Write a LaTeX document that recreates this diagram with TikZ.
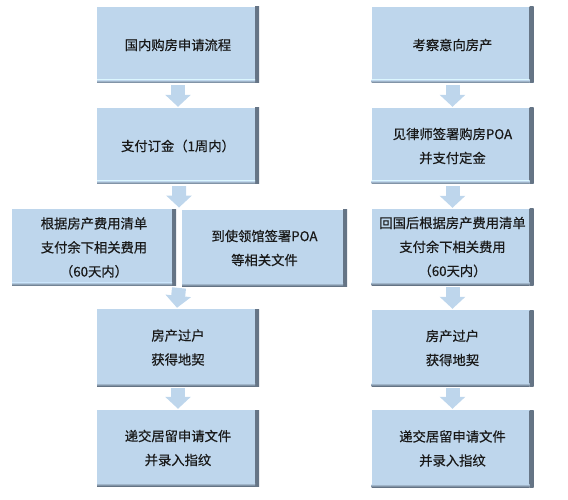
\documentclass[tikz,border=0pt]{standalone}
\usepackage{fontspec}
\setmainfont{Noto Sans CJK SC}[FakeBold=0.5]
\usetikzlibrary{arrows.meta,calc}
\definecolor{boxblue}{RGB}{190,214,236}
\definecolor{arrowblue}{RGB}{190,214,236}
\definecolor{edgegray}{RGB}{100,115,132}
\definecolor{txt}{RGB}{25,25,25}
\tikzset{
  box/.style={rectangle, fill=boxblue, minimum width=162pt, minimum height=76pt,
    inner sep=0pt, align=center, text=txt, font=\fontsize{13.3}{24}\selectfont,
    path picture={
      \shade[left color=boxblue, right color=edgegray]
        ([xshift=-4pt]path picture bounding box.north east) rectangle (path picture bounding box.south east);
      \shade[top color=boxblue, bottom color=edgegray]
        ([yshift=3pt]path picture bounding box.south west) rectangle ([xshift=-4pt]path picture bounding box.south east);
    }},
  fatarrow/.style={draw=arrowblue, line width=14pt,
    -{Triangle[width=25pt,length=12pt,color=arrowblue]}}
}
\begin{document}
\begin{tikzpicture}[x=1pt,y=-1pt]
\useasboundingbox (0,0) rectangle (568,500);
% left column
\node[box] (L1) at (178,45) {国内购房申请流程};
\node[box] (L2) at (178,146) {支付订金（1周内）};
\node[box, minimum width=164pt] (L3a) at (94,247.5) {根据房产费用清单\\支付余下相关费用\\（60天内）};
\node[box, minimum width=165pt] (L3b) at (264.5,248) {到使领馆签署POA\\等相关文件};
\node[box, minimum height=77pt] (L4) at (178,347.5) {房产过户\\获得地契};
\node[box] (L5) at (178,448) {递交居留申请文件\\并录入指纹};
\coordinate (m3t) at ($(L3a.north east)!0.5!(L3b.north west)$);
\coordinate (m3b) at ($(L3a.south east)!0.5!(L3b.south west)$);
% right column
\node[box] (R1) at (452.5,45) {考察意向房产};
\node[box] (R2) at (452.5,146) {见律师签署购房POA\\并支付定金};
\node[box] (R3) at (452.5,247) {回国后根据房产费用清单\\支付余下相关费用\\（60天内）};
\node[box] (R4) at (452.5,348) {房产过户\\获得地契};
\node[box, minimum height=77pt] (R5) at (452.5,448.5) {递交居留申请文件\\并录入指纹};
% arrows
\draw[fatarrow] ([yshift=-2pt]L1.south) -- ([yshift=1pt]L2.north);
\draw[fatarrow] ([xshift=1pt,yshift=-2pt]L2.south) -- ([yshift=2pt]m3t);
\draw[fatarrow] ([yshift=-2pt]m3b) -- ([xshift=-1pt,yshift=1pt]L4.north);
\draw[fatarrow] ([yshift=-2pt]L4.south) -- ([yshift=1pt]L5.north);
\draw[fatarrow] ([yshift=-2pt]R1.south) -- ([yshift=1pt]R2.north);
\draw[fatarrow] ([yshift=-2pt]R2.south) -- ([yshift=1pt]R3.north);
\draw[fatarrow] ([yshift=-2pt]R3.south) -- ([yshift=1pt]R4.north);
\draw[fatarrow] ([yshift=-2pt]R4.south) -- ([yshift=1pt]R5.north);
\end{tikzpicture}
\end{document}
